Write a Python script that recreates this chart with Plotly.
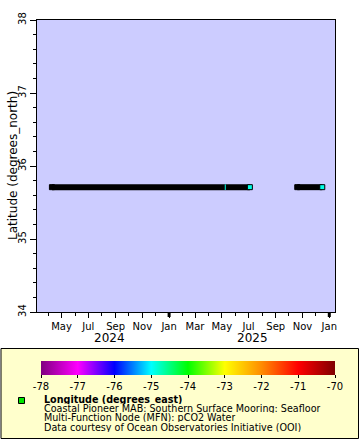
import plotly.graph_objects as go

# ---------------- data ----------------
segment_start = ["2024-04-09", "2025-10-20"]
segment_end = ["2025-07-04", "2025-12-16"]
segment_lat = [35.71, 35.71]
segment_end_lon = [-74.9, -74.9]
gap_time = ["2025-05-09"]
gap_lat = [35.71]
gap_lon = [-74.9]

x_range = ["2024-03-06", "2026-01-14"]
y_range = [34, 38]
lon_ticks = [-78, -77, -76, -75, -74, -73, -72, -71, -70]
year_labels = ["2024", "2025"]
year_label_dates = ["2024-08-19", "2025-07-10"]
year_boundaries = ["2025-01-01", "2026-01-01"]
legend_title = "Longitude (degrees_east)"
legend_lines = [
    "Coastal Pioneer MAB: Southern Surface Mooring: Seafloor",
    "Multi-Function Node (MFN): pCO2 Water",
    "Data courtesy of Ocean Observatories Initiative (OOI)",
]

rainbow = [
    [0.0, "#800080"], [0.125, "#FF00FF"], [0.25, "#0000FF"],
    [0.375, "#00FFFF"], [0.5, "#00FF00"], [0.625, "#FFFF00"],
    [0.75, "#FF8C00"], [0.875, "#FF0000"], [1.0, "#800000"],
]

# ---------------- geometry helpers ----------------
FW, FH = 360, 440
L, R, T, B = 37, 335, 20, 312
W, H = R - L, B - T


def px(x):
    return (x - L) / W


def py(y):
    return (B - y) / H


FONT = "DejaVu Sans"

bar_x, bar_y = [], []
for s, e, la in zip(segment_start, segment_end, segment_lat):
    bar_x += [s, e, None]
    bar_y += [la, la, None]

fig = go.Figure()
fig.add_trace(go.Scatter(
    x=bar_x, y=bar_y, mode="lines",
    line=dict(color="black", width=6), hoverinfo="skip"))
fig.add_trace(go.Scatter(
    x=segment_start, y=segment_lat, mode="markers",
    marker=dict(symbol="square", size=5, color="black",
                line=dict(color="black", width=1))))
fig.add_trace(go.Scatter(
    x=gap_time, y=gap_lat, mode="markers",
    marker=dict(symbol="line-ns", size=4,
                line=dict(color=gap_lon, colorscale=rainbow,
                          cmin=-78, cmax=-70, width=1))))
fig.add_trace(go.Scatter(
    x=segment_end, y=segment_lat, mode="markers",
    marker=dict(symbol="square", size=5, color=segment_end_lon,
                colorscale=rainbow, cmin=-78, cmax=-70,
                line=dict(color="black", width=1),
                showscale=True,
                colorbar=dict(
                    orientation="h", x=px(41), xanchor="left",
                    y=py(361), yanchor="top",
                    len=294, lenmode="pixels",
                    thickness=14, thicknessmode="pixels",
                    xpad=0, ypad=0, outlinewidth=0,
                    ticks="outside", ticklen=3, tickcolor="black",
                    tickvals=lon_ticks,
                    ticktext=[str(v) for v in lon_ticks],
                    tickfont=dict(family=FONT, size=10, color="black")))))

shapes = [
    dict(type="rect", xref="paper", yref="paper",
         x0=px(1), x1=px(358.5), y0=py(438.5), y1=py(348.5),
         fillcolor="#FFFFCC", line=dict(color="black", width=1),
         layer="below"),
    dict(type="rect", xref="paper", yref="paper",
         x0=px(18.5), x1=px(24.5), y0=py(403.5), y1=py(397.5),
         fillcolor="#00E600", line=dict(color="black", width=1)),
]
for d in year_boundaries:
    shapes.append(dict(type="line", xref="x", yref="paper",
                       x0=d, x1=d, y0=0, y1=-5 / H,
                       line=dict(color="black", width=3)))

annotations = [
    dict(text="Latitude (degrees_north)", xref="paper", yref="paper",
         x=px(13), y=0.5, textangle=-90, showarrow=False,
         xanchor="center", yanchor="middle",
         font=dict(family=FONT, size=12, color="black")),
]
for lab, d in zip(year_labels, year_label_dates):
    annotations.append(dict(text=lab, xref="x", yref="paper", x=d,
                            y=py(338), showarrow=False,
                            xanchor="center", yanchor="middle",
                            font=dict(family=FONT, size=12, color="black")))
annotations.append(dict(text="<b>" + legend_title + "</b>", xref="paper",
                        yref="paper", x=px(42), y=py(400), showarrow=False,
                        xanchor="left", yanchor="middle", height=9,
                        font=dict(family=FONT, size=9.6, color="black")))
for i, line in enumerate(legend_lines):
    annotations.append(dict(text=line, xref="paper", yref="paper",
                            x=px(42), y=py(409 + 9 * i), showarrow=False,
                            xanchor="left", yanchor="middle", height=9,
                            font=dict(family=FONT, size=9.6, color="black")))

fig.update_layout(
    width=FW, height=FH,
    margin=dict(l=L, r=FW - R, t=T, b=FH - B, pad=0),
    paper_bgcolor="white", plot_bgcolor="#CCCCFF",
    showlegend=False,
    font=dict(family=FONT, size=10, color="black"),
    shapes=shapes, annotations=annotations,
    xaxis=dict(type="date", range=x_range, tickformat="%b",
               dtick="M2", tick0="2024-01-01",
               ticks="outside", ticklen=5, tickcolor="black",
               minor=dict(dtick="M1", ticks="outside", ticklen=3,
                          tickcolor="black"),
               showgrid=False, zeroline=False, automargin=False,
               showline=True, linecolor="black", linewidth=1, mirror=True,
               tickfont=dict(family=FONT, size=10, color="black")),
    yaxis=dict(range=y_range, dtick=1, tick0=34,
               ticks="outside", ticklen=6, tickcolor="black",
               minor=dict(dtick=0.2, ticks="outside", ticklen=3,
                          tickcolor="black"),
               tickangle=-90, automargin=False,
               showgrid=False, zeroline=False,
               showline=True, linecolor="black", linewidth=1, mirror=True,
               tickfont=dict(family=FONT, size=10, color="black")),
)

fig.write_html("out.html",
               config={"displayModeBar": False},
               post_script="document.body.style.margin='0';"
                           "document.body.style.padding='0';")
